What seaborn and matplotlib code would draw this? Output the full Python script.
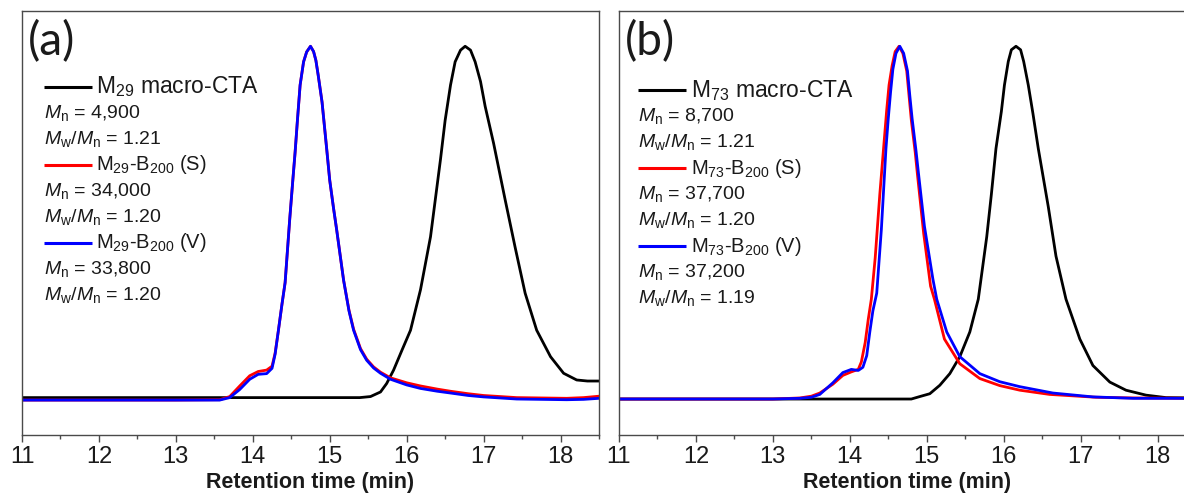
import numpy as np
import pandas as pd
import matplotlib
matplotlib.use("Agg")
import matplotlib.pyplot as plt
import seaborn as sns

# ---------------- data ----------------
# Panel (a)
a_macro_t = [11.0, 12.0, 13.0, 14.0, 15.0, 15.39, 15.53, 15.66, 15.74, 15.83, 15.94, 16.05, 16.18,
             16.31, 16.44, 16.50, 16.57, 16.63, 16.70, 16.76, 16.83, 16.89, 16.96, 17.02, 17.13,
             17.28, 17.41, 17.54, 17.69, 17.87, 18.04, 18.21, 18.35, 18.5]
a_macro_i = [0.004, 0.004, 0.004, 0.004, 0.004, 0.004, 0.007, 0.02, 0.044, 0.082, 0.139, 0.195, 0.31,
             0.46, 0.68, 0.79, 0.89, 0.956, 0.989, 1.0, 0.989, 0.956, 0.90, 0.83, 0.725,
             0.565, 0.43, 0.30, 0.195, 0.12, 0.073, 0.054, 0.051, 0.051]

a_S_t = [11.0, 12.0, 13.0, 13.57, 13.70, 13.83, 13.96, 14.07, 14.18, 14.25, 14.29, 14.33, 14.38,
         14.42, 14.48, 14.52, 14.55, 14.58, 14.615, 14.66, 14.70, 14.75, 14.79, 14.82, 14.85,
         14.90, 14.96, 15.0, 15.05, 15.09, 15.18, 15.25, 15.31, 15.40, 15.48, 15.57, 15.66,
         15.79, 16.0, 16.18, 16.4, 16.57, 16.8, 17.0, 17.43, 18.08, 18.3, 18.5]
a_S_i = [-0.003, -0.003, -0.003, -0.002, 0.007, 0.037, 0.066, 0.078, 0.082, 0.093, 0.13, 0.19, 0.27,
         0.33, 0.51, 0.62, 0.70, 0.79, 0.89, 0.956, 0.984, 1.0, 0.985, 0.96, 0.918,
         0.842, 0.71, 0.62, 0.54, 0.48, 0.337, 0.252, 0.198, 0.143, 0.113, 0.091, 0.076,
         0.06, 0.046, 0.037, 0.028, 0.022, 0.015, 0.01, 0.004, 0.002, 0.004, 0.008]

a_V_t = [11.0, 12.0, 13.0, 13.57, 13.70, 13.83, 13.96, 14.07, 14.18, 14.25, 14.29, 14.33, 14.38,
         14.42, 14.48, 14.52, 14.55, 14.58, 14.615, 14.66, 14.70, 14.75, 14.79, 14.82, 14.85,
         14.90, 14.96, 15.0, 15.05, 15.09, 15.18, 15.25, 15.31, 15.40, 15.48, 15.57, 15.66,
         15.79, 16.0, 16.18, 16.4, 16.57, 16.8, 17.0, 17.43, 18.08, 18.3, 18.5]
a_V_i = [-0.003, -0.003, -0.003, -0.003, 0.004, 0.027, 0.056, 0.07, 0.072, 0.087, 0.127, 0.19, 0.27,
         0.33, 0.51, 0.62, 0.70, 0.79, 0.89, 0.956, 0.984, 1.0, 0.985, 0.96, 0.918,
         0.842, 0.71, 0.62, 0.54, 0.48, 0.337, 0.25, 0.195, 0.14, 0.11, 0.088, 0.073,
         0.056, 0.04, 0.03, 0.022, 0.017, 0.01, 0.006, 0.0, -0.002, -0.001, 0.002]

# Panel (b)
b_macro_t = [11.0, 12.0, 13.0, 14.0, 14.8, 14.91, 15.04, 15.17, 15.30, 15.43, 15.56, 15.67, 15.78,
             15.84, 15.90, 15.97, 16.01, 16.06, 16.10, 16.16, 16.22, 16.26, 16.32, 16.38, 16.45,
             16.58, 16.68, 16.81, 16.99, 17.16, 17.38, 17.59, 17.85, 18.11, 18.5]
b_macro_i = [0.0, 0.0, 0.0, 0.0, 0.0, 0.007, 0.015, 0.039, 0.072, 0.12, 0.19, 0.283, 0.46,
             0.58, 0.71, 0.815, 0.89, 0.957, 0.99, 1.0, 0.99, 0.957, 0.89, 0.81, 0.71,
             0.545, 0.405, 0.283, 0.17, 0.095, 0.048, 0.025, 0.011, 0.004, 0.003]

b_S_t = [11.0, 12.0, 13.0, 13.35, 13.50, 13.61, 13.78, 13.91, 14.02, 14.11, 14.15, 14.20, 14.24,
         14.28, 14.33, 14.39, 14.45, 14.48, 14.51, 14.55, 14.59, 14.64, 14.69, 14.74, 14.77,
         14.80, 14.85, 14.88, 14.96, 15.05, 15.10, 15.23, 15.43, 15.69, 15.95, 16.21, 16.6,
         17.2, 17.7, 18.5]
b_S_i = [0.0, 0.0, 0.0, 0.003, 0.008, 0.017, 0.042, 0.067, 0.077, 0.084, 0.105, 0.16, 0.226,
         0.283, 0.40, 0.58, 0.74, 0.82, 0.89, 0.945, 0.985, 1.0, 0.98, 0.93, 0.86,
         0.79, 0.70, 0.635, 0.47, 0.32, 0.283, 0.17, 0.10, 0.058, 0.038, 0.025, 0.013,
         0.005, 0.003, 0.002]

b_V_t = [11.0, 12.0, 13.0, 13.35, 13.50, 13.61, 13.78, 13.91, 14.02, 14.11, 14.17, 14.22, 14.26,
         14.30, 14.35, 14.41, 14.47, 14.50, 14.53, 14.56, 14.60, 14.65, 14.70, 14.75, 14.78,
         14.81, 14.86, 14.89, 14.97, 15.08, 15.13, 15.26, 15.43, 15.69, 15.95, 16.21, 16.64,
         17.16, 17.68, 18.5]
b_V_i = [0.0, 0.0, 0.0, 0.002, 0.005, 0.013, 0.046, 0.075, 0.084, 0.081, 0.09, 0.123, 0.19,
         0.25, 0.30, 0.48, 0.71, 0.795, 0.87, 0.935, 0.98, 1.0, 0.98, 0.93, 0.86,
         0.795, 0.705, 0.645, 0.49, 0.34, 0.283, 0.19, 0.12, 0.072, 0.049, 0.035, 0.017,
         0.006, 0.002, 0.002]

panel_tags = ["(a)", "(b)"]
legend_a = [r"M$_{29}$", r"M$_{29}$-B$_{200}$ (S)", r"M$_{29}$-B$_{200}$ (V)"]
legend_b = [r"M$_{73}$", r"M$_{73}$-B$_{200}$ (S)", r"M$_{73}$-B$_{200}$ (V)"]
mn_a = ["4,900", "34,000", "33,800"]
pdi_a = ["1.21", "1.20", "1.20"]
mn_b = ["8,700", "37,700", "37,200"]
pdi_b = ["1.21", "1.20", "1.19"]
xlabel = "Retention time (min)"
xticks = [11, 12, 13, 14, 15, 16, 17, 18]

# ---------------- style ----------------
sns.set_theme(style="ticks")
plt.rcParams["font.family"] = ["Liberation Sans", "DejaVu Sans"]
plt.rcParams["mathtext.fontset"] = "custom"
plt.rcParams["mathtext.rm"] = "Liberation Sans"
plt.rcParams["mathtext.it"] = "Liberation Sans:italic"
plt.rcParams["mathtext.bf"] = "Liberation Sans:bold"

W, H = 1184, 504
fig = plt.figure(figsize=(W / 100, H / 100), dpi=100)

spine_col = "#4a4a4a"
txt_col = "#1a1a1a"
colors = ["#000000", "#ff0000", "#0000ff"]


def make_ax(left_px, right_px):
    top_px, bot_px = 11, 435
    return fig.add_axes([left_px / W, (H - bot_px) / H, (right_px - left_px) / W, (bot_px - top_px) / H])


axA = make_ax(22, 599)
axB = make_ax(619, 1196)

panels = [
    (axA, [(a_macro_t, a_macro_i), (a_S_t, a_S_i), (a_V_t, a_V_i)], legend_a, mn_a, pdi_a, 0.038, 0.0),
    (axB, [(b_macro_t, b_macro_i), (b_S_t, b_S_i), (b_V_t, b_V_i)], legend_b, mn_b, pdi_b, 0.033, -0.008),
]

for k, (ax, series, leg, mns, pdis, lx, dy) in enumerate(panels):
    for (t, i), c in zip(series, colors):
        df = pd.DataFrame({"t": t, "i": i})
        sns.lineplot(data=df, x="t", y="i", ax=ax, color=c, lw=2.0, estimator=None, sort=False)
    ax.set_xlim(11, 18.5)
    ax.set_ylim(-0.102, 1.1)
    ax.set_yticks([])
    ax.set_ylabel("")
    ax.set_xticks(xticks)
    ax.set_xticks(np.arange(11.5, 18.6, 1.0), minor=True)
    ax.tick_params(axis="x", which="major", direction="out", length=5, width=1,
                   color=spine_col, labelsize=17, labelcolor=txt_col, pad=3)
    ax.tick_params(axis="x", which="minor", direction="out", length=3, width=1, color=spine_col)
    for s in ax.spines.values():
        s.set_color(spine_col)
        s.set_linewidth(1.0)
    ax.set_xlabel(xlabel, fontsize=15.5, fontweight="bold", color=txt_col, labelpad=3)

    ax.text(0.010, 0.978, panel_tags[k], transform=ax.transAxes, fontsize=33,
            family=["Lato", "DejaVu Sans"], color=txt_col, va="top", ha="left")

    # legend-like annotation block
    row0 = (435 - 87) / 424 + dy
    step = 26 / 424
    line_len = 0.083
    for j in range(3):
        y0 = row0 - 3 * j * step
        ax.plot([lx, lx + line_len], [y0, y0], transform=ax.transAxes, color=colors[j], lw=2.2,
                solid_capstyle="butt")
        if j == 0:
            ax.text(lx + line_len + 0.008, y0, leg[j] + " macro-CTA", transform=ax.transAxes,
                    fontsize=16.5, color=txt_col, va="center", ha="left")
        else:
            ax.text(lx + line_len + 0.008, y0, leg[j], transform=ax.transAxes,
                    fontsize=14.5, color=txt_col, va="center", ha="left")
        ax.text(lx, y0 - step, r"$\mathit{M}_\mathrm{n}$ = " + mns[j], transform=ax.transAxes,
                fontsize=14, color=txt_col, va="center", ha="left")
        ax.text(lx, y0 - 2 * step, r"$\mathit{M}_\mathrm{w}/\mathit{M}_\mathrm{n}$ = " + pdis[j],
                transform=ax.transAxes, fontsize=14, color=txt_col, va="center", ha="left")

fig.savefig("out.png", dpi=100)
